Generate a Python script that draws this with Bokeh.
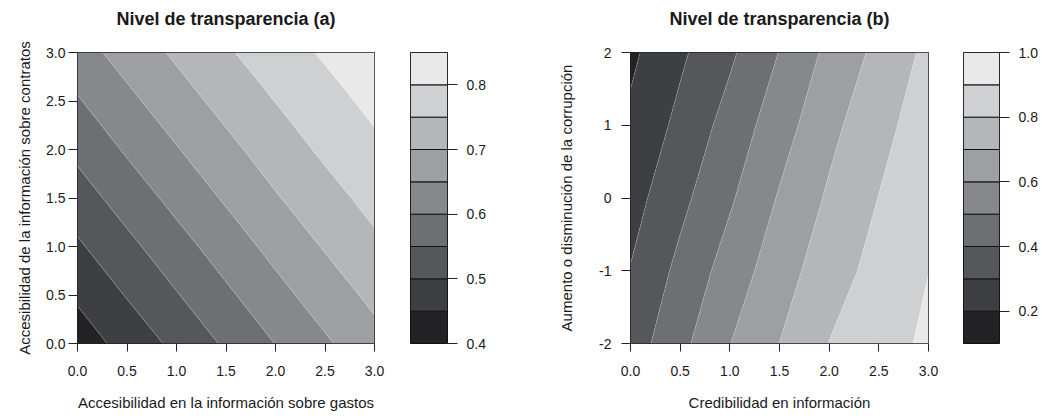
import numpy as np
from bokeh.plotting import figure
from bokeh.layouts import row
from bokeh.models import Range1d, FixedTicker, PrintfTickFormatter, ColumnDataSource
from bokeh.embed import file_html
from bokeh.resources import INLINE

# ---------------- data: panel (a) ----------------
a_title = "Nivel de transparencia (a)"
a_xlabel = "Accesibilidad en la información sobre gastos"
a_ylabel = "Accesibilidad de la información sobre contratos"
a_x = [0.0, 0.5, 1.0, 1.5, 2.0, 2.5, 3.0]
a_y = [0.0, 0.5, 1.0, 1.5, 2.0, 2.5, 3.0]
a_z = [
    [0.423, 0.468, 0.512, 0.557, 0.601, 0.643, 0.683],
    [0.458, 0.503, 0.547, 0.591, 0.634, 0.674, 0.712],
    [0.493, 0.537, 0.581, 0.624, 0.665, 0.704, 0.740],
    [0.527, 0.572, 0.615, 0.656, 0.696, 0.732, 0.766],
    [0.562, 0.606, 0.647, 0.687, 0.724, 0.759, 0.790],
    [0.596, 0.638, 0.679, 0.716, 0.751, 0.783, 0.812],
    [0.629, 0.670, 0.708, 0.744, 0.777, 0.806, 0.833],
]
a_levels = [0.40, 0.45, 0.50, 0.55, 0.60, 0.65, 0.70, 0.75, 0.80, 0.85]
a_xticks = [0.0, 0.5, 1.0, 1.5, 2.0, 2.5, 3.0]
a_yticks = [0.0, 0.5, 1.0, 1.5, 2.0, 2.5, 3.0]
a_cticks = [0.4, 0.5, 0.6, 0.7, 0.8]

# ---------------- data: panel (b) ----------------
b_title = "Nivel de transparencia (b)"
b_xlabel = "Credibilidad en información"
b_ylabel = "Aumento o disminución de la corrupción"
b_x = [0.0, 0.5, 1.0, 1.5, 2.0, 2.5, 3.0]
b_y = [-2.0, -1.0, 0.0, 1.0, 2.0]
b_z = [
    [0.349, 0.473, 0.598, 0.701, 0.802, 0.860, 0.918],
    [0.304, 0.426, 0.544, 0.656, 0.755, 0.834, 0.899],
    [0.261, 0.374, 0.487, 0.609, 0.714, 0.802, 0.875],
    [0.220, 0.325, 0.438, 0.556, 0.673, 0.768, 0.853],
    [0.180, 0.283, 0.383, 0.503, 0.625, 0.726, 0.824],
]
b_levels = [0.1, 0.2, 0.3, 0.4, 0.5, 0.6, 0.7, 0.8, 0.9, 1.0]
b_xticks = [0.0, 0.5, 1.0, 1.5, 2.0, 2.5, 3.0]
b_yticks = [-2, -1, 0, 1, 2]
b_cticks = [0.2, 0.4, 0.6, 0.8, 1.0]

# grey palette (dark -> light), 9 bands
greys = ["#232325", "#3e3f43", "#56575b", "#6e6f73", "#86888c",
         "#9d9fa3", "#b5b6b9", "#cfd0d2", "#e9e9ea"]

FONT = "Liberation Sans"
TXT = "#1a1a1a"
H = 415
TOP = 52
BOTTOM = 72


def style_axis(ax, tick_out):
    ax.major_label_text_font = FONT
    ax.major_label_text_font_size = "14px"
    ax.major_label_text_color = TXT
    ax.axis_label_text_font = FONT
    ax.axis_label_text_font_size = "15px"
    ax.axis_label_text_font_style = "normal"
    ax.axis_label_text_color = TXT
    ax.major_tick_in = 0
    ax.major_tick_out = tick_out
    ax.major_tick_line_color = "#222222"
    ax.minor_tick_line_color = None
    ax.axis_line_color = None


def contour_panel(title, xlabel, ylabel, xs, ys, zs, levels, xticks, yticks,
                  yfmt, width, left, right, yrange, ylab_standoff, ytick_standoff):
    p = figure(width=width, height=H, min_border_left=left, min_border_right=right,
               min_border_top=TOP, min_border_bottom=BOTTOM,
               x_range=Range1d(0, 3), y_range=Range1d(*yrange),
               output_backend="svg", toolbar_location=None,
               title=title + "\n ")
    p.contour(x=np.array(xs), y=np.array(ys), z=np.array(zs), levels=levels,
              fill_color=greys, line_color="#ffffff", line_alpha=0.3, line_width=0.6)
    p.grid.visible = False
    p.outline_line_color = "#222222"
    p.outline_line_width = 1
    p.background_fill_color = "white"
    p.border_fill_color = "white"
    p.title.align = "center"
    p.title.text_font = FONT
    p.title.text_font_size = "18px"
    p.title.text_font_style = "bold"
    p.title.text_color = TXT
    p.title.standoff = 8
    p.xaxis.ticker = FixedTicker(ticks=xticks)
    p.yaxis.ticker = FixedTicker(ticks=yticks)
    p.xaxis.formatter = PrintfTickFormatter(format="%.1f")
    p.yaxis.formatter = PrintfTickFormatter(format=yfmt)
    p.xaxis.axis_label = xlabel
    p.yaxis.axis_label = ylabel
    style_axis(p.xaxis[0], 8)
    style_axis(p.yaxis[0], 9)
    p.xaxis.major_label_standoff = 14
    p.xaxis.axis_label_standoff = 15
    p.yaxis.major_label_standoff = ytick_standoff
    p.yaxis.axis_label_standoff = ylab_standoff
    return p


def colorbar_panel(levels, cticks, width, left, right):
    p = figure(width=width, height=H, min_border_left=left, min_border_right=right,
               min_border_top=TOP, min_border_bottom=BOTTOM,
               x_range=Range1d(0, 1), y_range=Range1d(levels[0], levels[-1]),
               x_axis_location=None, y_axis_location="right",
               output_backend="svg", toolbar_location=None)
    src = ColumnDataSource(dict(bottom=levels[:-1], top=levels[1:], color=greys))
    p.quad(left=0, right=1, bottom="bottom", top="top", fill_color="color",
           line_color="#111111", line_width=1, source=src)
    p.grid.visible = False
    p.outline_line_color = "#111111"
    p.outline_line_width = 1
    p.yaxis.ticker = FixedTicker(ticks=cticks)
    p.yaxis.formatter = PrintfTickFormatter(format="%.1f")
    style_axis(p.yaxis[0], 10)
    p.yaxis.major_label_standoff = 9
    return p


pa = contour_panel(a_title, a_xlabel, a_ylabel, a_x, a_y, a_z, a_levels,
                   a_xticks, a_yticks, "%.1f", 395, 77, 21, (0, 3), 10, 3)
ca = colorbar_panel(a_levels, a_cticks, 152, 15, 100)
pb = contour_panel(b_title, b_xlabel, b_ylabel, b_x, b_y, b_z, b_levels,
                   b_xticks, b_yticks, "%d", 401, 83, 20, (-2, 2), 21, 10)
cb = colorbar_panel(b_levels, b_cticks, 92, 15, 39)

p = row(pa, ca, pb, cb)
open("out.html", "w").write(file_html(p, INLINE))
